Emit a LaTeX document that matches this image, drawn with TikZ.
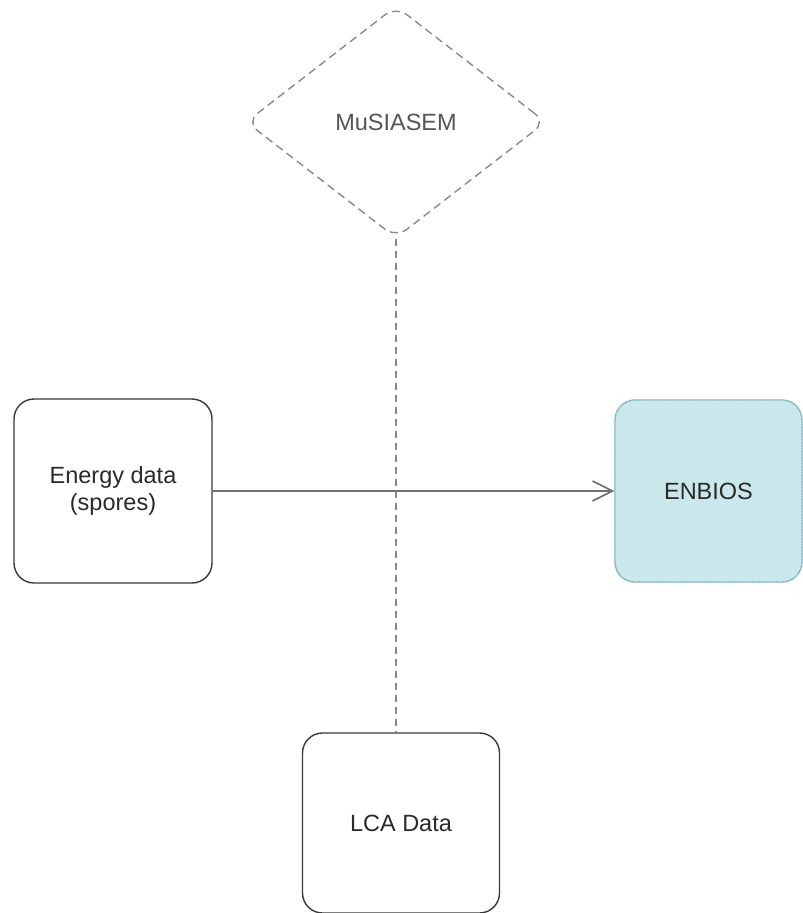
\documentclass[tikz,border=0pt]{standalone}
\usepackage{fontspec}
\setmainfont{Liberation Sans}
\usetikzlibrary{shapes.geometric,patterns,arrows.meta}
\definecolor{boxline}{HTML}{3A3A3A}
\definecolor{dashgray}{HTML}{8A8A8A}
\definecolor{arrowgray}{HTML}{707070}
\definecolor{enfill}{HTML}{D6EEF2}
\definecolor{enhatch}{HTML}{B3DBE3}
\definecolor{enline}{HTML}{7FB3BD}
\definecolor{txt}{HTML}{2A2A2A}
\tikzset{
  sbox/.style={draw=boxline, line width=1.4pt, rounded corners=20pt, inner sep=0pt,
    align=center, text=txt, font=\fontsize{23.5}{27}\selectfont},
  dbox/.style={draw=dashgray, line width=1.4pt, dash pattern=on 8pt off 5pt,
    shape=diamond, rounded corners=14pt, inner sep=0pt, text=txt!80,
    font=\fontsize{23.5}{27}\selectfont},
  flow/.style={draw=arrowgray, line width=1.8pt, -{Straight Barb[length=20pt,width=20pt,line width=1.6pt]}},
  dlink/.style={draw=dashgray, line width=1.3pt, dash pattern=on 7pt off 5pt}
}
\begin{document}
\begin{tikzpicture}[x=1pt,y=-1pt]
\useasboundingbox[fill=white] (0,0) rectangle (803,913);
\node[dbox, minimum width=300pt, minimum height=232pt] (mus) at (396,122) {MuSIASEM};
\node[sbox, minimum width=198pt, minimum height=184pt] (energy) at (113,491) {Energy data\\(spores)};
\node[sbox, draw=enline, fill=enfill, minimum width=187pt, minimum height=182pt,
  postaction={pattern=north east lines, pattern color=enhatch}] (enbios) at (708.5,491) {ENBIOS};
\node[sbox, minimum width=197pt, minimum height=180pt] (lca) at (401,823) {LCA Data};
\coordinate (dtop) at (mus.south);
\coordinate (dbot) at (lca.north -| mus.south);
\draw[dlink] (dtop) -- (dbot);
\draw[flow] (energy.east) -- (enbios.west);
\end{tikzpicture}
\end{document}
